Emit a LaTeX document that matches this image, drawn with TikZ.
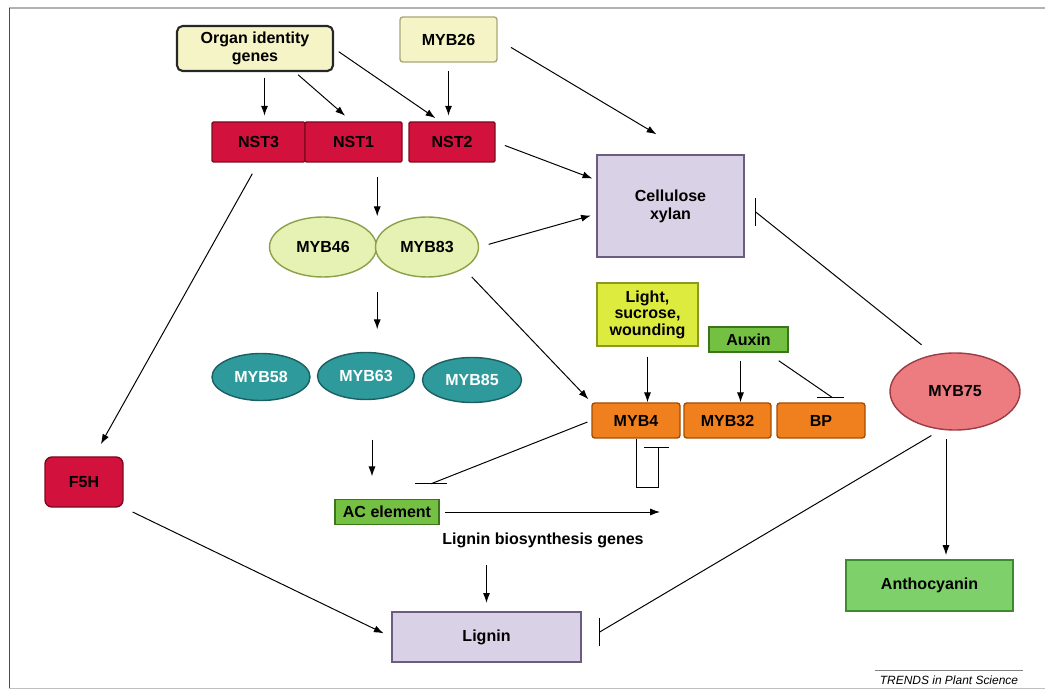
\documentclass[tikz,border=0pt]{standalone}
\usepackage{fontspec}
\setmainfont{Liberation Sans}
\usetikzlibrary{arrows.meta,positioning,calc,shapes.geometric}
\definecolor{paleyel}{HTML}{F4F4C6}
\definecolor{paleyelD}{HTML}{A8A878}
\definecolor{nstred}{HTML}{D2123C}
\definecolor{nstredD}{HTML}{7E0A1E}
\definecolor{lav}{HTML}{D9D1E5}
\definecolor{lavD}{HTML}{6C5C80}
\definecolor{mybgrn}{HTML}{E6F1B4}
\definecolor{mybgrnD}{HTML}{8CA048}
\definecolor{tealc}{HTML}{2E9A9C}
\definecolor{tealD}{HTML}{1C5F63}
\definecolor{lime}{HTML}{DDEA3E}
\definecolor{limeD}{HTML}{8A9A1E}
\definecolor{leaf}{HTML}{74C043}
\definecolor{leafD}{HTML}{3C761C}
\definecolor{orng}{HTML}{F0801E}
\definecolor{orngD}{HTML}{A84C00}
\definecolor{pinkc}{HTML}{EC7C80}
\definecolor{pinkD}{HTML}{9C3C44}
\definecolor{antho}{HTML}{7ED06A}
\definecolor{anthoD}{HTML}{3E8A2E}

\begin{document}
\begin{tikzpicture}[
 font=\bfseries\fontsize{11.4}{13}\selectfont,>={Latex[length=7pt,width=5pt]},
 box/.style={draw,rounded corners=2pt,align=center,inner sep=0pt,line width=1pt},
 oval/.style={draw,ellipse,align=center,inner sep=0pt,line width=1pt},
 pale/.style={box,fill=paleyel,draw=paleyelD,minimum height=1.125cm},
 nst/.style={box,fill=nstred,draw=nstredD,rounded corners=1pt,minimum height=1cm},
 prod/.style={box,fill=lav,draw=lavD,rounded corners=0pt},
 mybpair/.style={oval,fill=mybgrn,draw=mybgrnD,minimum height=1.5cm},
 tealmyb/.style={oval,fill=tealc,draw=tealD,text=white,minimum height=1.175cm},
 orbox/.style={box,fill=orng,draw=orngD,minimum height=0.875cm,minimum width=2.2cm},
 grbox/.style={box,fill=leaf,draw=leafD,rounded corners=0pt},
 flow/.style={->,line width=0.7pt},
 inhib/.style={line width=0.7pt}]
\useasboundingbox (0,0) rectangle (26.125,-17.275);
% frame
\draw[black!30,line width=0.8pt] (0.225,-0.2) -- (26.125,-0.2);
\draw[black!70,line width=0.6pt] (0.225,-0.2) -- (0.225,-17.2);
\draw[black!25,line width=0.6pt] (0.225,-17.2) -- (26.125,-17.2);

% upstream regulators
\node[pale,draw=black!85,line width=1.5pt,rounded corners=4pt,minimum width=3.9cm] (organ) at (6.375,-1.2125) {Organ identity\\genes};
\node[pale,minimum width=2.425cm] (myb26) at (11.2125,-0.9875) {MYB26};
\node[nst,minimum width=2.325cm] (nst3) at (6.4625,-3.55) {NST3};
\node[nst,minimum width=2.425cm] (nst1) at (8.8375,-3.55) {NST1};
\node[nst,minimum width=2.15cm] (nst2) at (11.3,-3.55) {NST2};

% MYB cascade
\node[mybpair,minimum width=2.675cm] (myb46) at (8.075,-6.175) {MYB46};
\node[mybpair,minimum width=2.575cm] (myb83) at (10.675,-6.175) {MYB83};
\node[tealmyb,minimum width=2.45cm] (myb58) at (6.525,-9.425) {MYB58};
\node[tealmyb,minimum width=2.425cm] (myb63) at (9.15,-9.4) {MYB63};
\node[tealmyb,minimum width=2.475cm,minimum height=1.125cm] (myb85) at (11.8,-9.5) {MYB85};

% right side
\node[prod,minimum width=3.675cm,minimum height=2.55cm] (cell) at (16.7625,-5.15) {Cellulose\\xylan};
\node[box,fill=lime,draw=limeD,rounded corners=0pt,minimum width=2.525cm,minimum height=1.575cm,
 font=\bfseries\fontsize{11.4}{11.8}\selectfont] (light) at (16.1875,-7.8625) {Light,\\sucrose,\\wounding};
\node[grbox,minimum width=1.975cm,minimum height=0.625cm] (auxin) at (18.7125,-8.4875) {Auxin};
\node[orbox] (myb4) at (15.9,-10.5125) {MYB4};
\node[orbox,minimum width=2.175cm] (myb32) at (18.1875,-10.5125) {MYB32};
\node[orbox] (bp) at (20.525,-10.5125) {BP};
\node[oval,fill=pinkc,draw=pinkD,minimum width=3.25cm,minimum height=1.925cm] (myb75) at (23.875,-9.7875) {MYB75};

% lower part
\node[box,fill=nstred,draw=nstredD,rounded corners=5pt,minimum width=1.95cm,minimum height=1.25cm] (f5h) at (2.1,-12.05) {F5H};
\node[grbox,minimum width=2.6cm,minimum height=0.625cm] (ac) at (9.675,-12.8) {AC element};
\node (genes) at (13.575,-13.5) {Lignin biosynthesis genes};
\node[prod,minimum width=4.725cm,minimum height=1.25cm] (lignin) at (12.1625,-15.925) {Lignin};
\node[grbox,fill=antho,draw=anthoD,minimum width=4.175cm,minimum height=1.275cm] (antho) at (23.2375,-14.6375) {Anthocyanin};
\node[font=\mdseries\itshape\fontsize{8.5}{10}\selectfont] (trends) at (23.725,-17.0) {TRENDS in Plant Science};
\draw[black!50,line width=0.4pt] (trends.north west) -- (trends.north east);

% activation
\draw[flow,shorten <=4pt,shorten >=4pt] ([xshift=0.15cm]nst3.north |- organ.south) -- ([xshift=0.15cm]nst3.north);
\draw[flow,shorten <=3pt,shorten >=6pt] ([xshift=1cm]organ.south) -- ([xshift=-0.05cm]nst1.north);
\draw[flow,shorten <=4pt,shorten >=4pt] (organ.east) -- ([xshift=-0.3cm]nst2.north);
\draw[flow,shorten <=6pt,shorten >=4pt] (myb26.south) -- (myb26.south |- nst2.north);
\draw[flow,shorten <=11pt] (myb26.east) -- ([xshift=-0.35cm,yshift=0.5cm]cell.north);
\draw[flow,shorten <=7pt,shorten >=3pt] (nst2.east) -- ([yshift=0.65cm]cell.west);
\draw[flow,shorten <=10pt] (nst1.south -| myb46.east) -- (myb46.east |- myb46.north);
\draw[flow,shorten <=9pt,shorten >=10pt] (nst3.south) -- ([xshift=0.25cm]f5h.north);
\draw[flow,shorten <=7pt,shorten >=4pt] (myb83.east) -- ([yshift=-0.2cm]cell.west);
\draw[flow,shorten <=10pt,shorten >=16pt] (myb46.east |- myb46.south) -- (myb46.east |- myb63.north);
\draw[flow,shorten <=8pt,shorten >=3pt] (myb83.south east) -- (myb4.north west);
\draw[flow,shorten <=7pt] (light.south) -- (light.south |- myb4.north);
\draw[flow,shorten <=6pt] ([xshift=-0.2cm]auxin.south) -- ([xshift=-0.2cm]auxin.south |- myb32.north);
\draw[flow,shorten <=28pt,shorten >=16pt] ([xshift=0.15cm]myb63.south) -- ([xshift=0.15cm]myb63.south |- ac.north);
\coordinate (acend) at (16.5,-12.8);
\draw[flow,shorten <=4pt] (ac.east) -- (acend);
\draw[flow,shorten <=9pt,shorten >=6pt] (genes.south -| lignin.north) -- (lignin.north);
\draw[flow,shorten <=7pt,shorten >=6pt] (f5h.south east) -- (lignin.west);
\draw[flow,shorten <=6pt,shorten >=3pt] ([xshift=-0.225cm]myb75.south) -- ([xshift=-0.225cm]myb75.south |- antho.north);

% repression
\coordinate (bpbar) at ([xshift=0.275cm,yshift=0.125cm]bp.north);
\draw[inhib] ([xshift=-0.25cm,yshift=-0.2cm]auxin.south east) -- (bpbar);
\draw[inhib] ([xshift=-0.375cm]bpbar) -- ([xshift=0.3cm]bpbar);
\coordinate (cellbar) at ([xshift=0.275cm,yshift=-0.15cm]cell.east);
\draw[inhib,shorten <=11pt] (myb75.120) -- (cellbar);
\draw[inhib] ([yshift=0.36cm]cellbar) -- ([yshift=-0.36cm]cellbar);
\coordinate (acbar) at ([xshift=1.1cm,yshift=0.375cm]ac.north);
\draw[inhib,shorten <=3pt] (myb4.west) -- (acbar);
\draw[inhib] ([xshift=-0.39cm]acbar) -- ([xshift=0.39cm]acbar);
\draw[inhib] (myb4.south) -- ++(0,-1.225) -- ++(0.55,0) -- ++(0,1.0) coordinate (selfbar);
\draw[inhib] ([xshift=-0.35cm]selfbar) -- ([xshift=0.275cm]selfbar);
\coordinate (lignbar) at ([xshift=0.45cm,yshift=0.125cm]lignin.east);
\draw[inhib,shorten <=8pt] (myb75.250) -- (lignbar);
\draw[inhib] ([yshift=0.36cm]lignbar) -- ([yshift=-0.36cm]lignbar);
\end{tikzpicture}
\end{document}
